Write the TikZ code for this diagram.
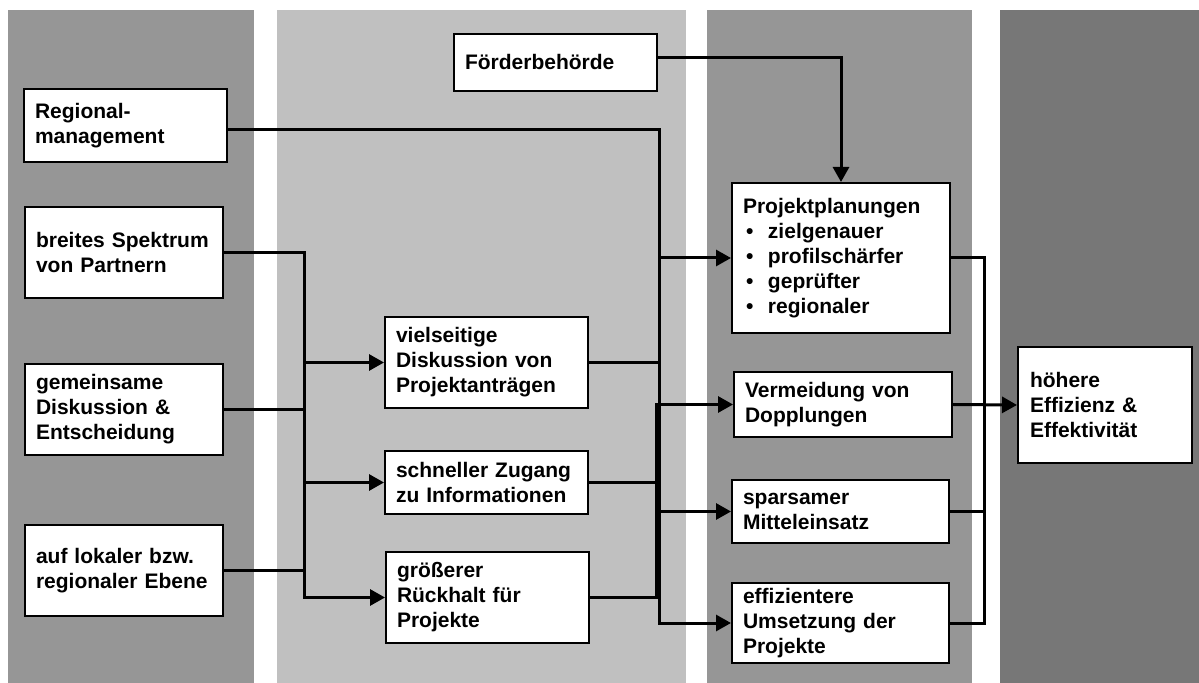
\documentclass[tikz,border=0pt]{standalone}
\usepackage{fontspec}
\setmainfont{Liberation Sans}
\usetikzlibrary{arrows.meta}
\definecolor{bandmid}{RGB}{150,150,150}
\definecolor{bandlight}{RGB}{192,192,192}
\definecolor{banddark}{RGB}{119,119,119}
\begin{document}
\begin{tikzpicture}[x=0.5pt,y=-0.5pt,
  band/.style={fill=#1, draw=none},
  box/.style={draw, fill=white, line width=1pt, inner xsep=5.5pt, inner ysep=0pt,
    align=left, font=\bfseries\fontsize{10.5pt}{12.5pt}\selectfont},
  wire/.style={line width=1.5pt},
  arr/.style={wire, -{Triangle[length=7.5pt,width=8pt]}}]

% page frame
\useasboundingbox (0,0) rectangle (1199,683);

% background columns
\fill[band=bandmid]   (8,10)    rectangle (254,683);
\fill[band=bandlight] (277,10)  rectangle (686,683);
\fill[band=bandmid]   (707,10)  rectangle (972,683);
\fill[band=banddark]  (1000,10) rectangle (1199,683);

% column 1: preconditions
\node[box, text width=90.5pt, minimum height=36.5pt] (reg)   at (125.5,125.5) {Regional-\\management};
\node[box, text width=88pt,   minimum height=45.5pt] (breit) at (124,252.5)   {breites Spektrum\\von Partnern};
\node[box, text width=88pt,   minimum height=45.5pt] (gem)   at (124,409.5)   {gemeinsame\\Diskussion \&\\Entscheidung};
\node[box, text width=88pt,   minimum height=45.5pt] (lok)   at (124,570.5)   {auf lokaler bzw.\\regionaler Ebene};

% column 2: process
\node[box, text width=90.5pt, minimum height=28.5pt] (foerd)   at (555.5,62.5)  {Förderbehörde};
\node[box, text width=90.5pt, minimum height=45.5pt] (viel)    at (486.5,362.5) {vielseitige\\Diskussion von\\Projektanträgen};
\node[box, text width=90.5pt, minimum height=31.5pt] (schnell) at (486.5,482.5) {schneller Zugang\\zu Informationen};
\node[box, text width=90.5pt, minimum height=45.5pt] (gross)   at (487.5,597.5) {größerer\\Rückhalt für\\Projekte};

% column 3: effects
\node[box, text width=98pt,   minimum height=75pt]   (plan) at (841,258) {Projektplanungen\\
  \makebox[12.5pt][l]{\hspace{1.5pt}\textbullet}zielgenauer\\
  \makebox[12.5pt][l]{\hspace{1.5pt}\textbullet}profilschärfer\\
  \makebox[12.5pt][l]{\hspace{1.5pt}\textbullet}geprüfter\\
  \makebox[12.5pt][l]{\hspace{1.5pt}\textbullet}regionaler};
\node[box, text width=98pt,   minimum height=32.5pt] (verm) at (843,404.5)   {Vermeidung von\\Dopplungen};
\node[box, text width=97.5pt, minimum height=31.5pt] (spar) at (840.5,511.5) {sparsamer\\Mitteleinsatz};
\node[box, text width=97.5pt, minimum height=40pt]   (eff)  at (840.5,623)   {effizientere\\Umsetzung der\\Projekte};

% column 4: result
\node[box, text width=75pt, minimum height=58pt, inner xsep=6pt] (hoeh) at (1105,405) {höhere\\Effizienz \&\\Effektivität};

% bus lines
\coordinate (lx) at (304,0);
\coordinate (mx) at (659,0);
\coordinate (nx) at (656,0);
\coordinate (rx) at (984,0);

% left bus
\draw[arr]  (breit.east) -| (lx |- gross.west) -- (gross.west);
\draw[wire] (gem.east) -- (gem.east -| lx);
\draw[wire] (lok.east) -- (lok.east -| lx);
\draw[arr]  (lx |- viel.west) -- (viel.west);
\draw[arr]  (lx |- schnell.west) -- (schnell.west);

% middle buses
\draw[arr]  ([yshift=-2.25pt]reg.east) -| (mx |- eff.west) -- (eff.west);
\draw[arr]  (mx |- plan.west) -- (plan.west);
\draw[wire] (viel.east) -- (viel.east -| mx);
\draw[arr]  (mx |- spar.west) -- (spar.west);
\draw[wire] (schnell.east) -- (schnell.east -| nx);
\draw[arr]  (gross.east) -| (nx |- verm.west) -- (verm.west);

% funding authority
\draw[arr]  ([yshift=2.25pt]foerd.east) -| (plan.north);

% right bus
\draw[wire] (plan.east) -| (rx |- eff.east) -- (eff.east);
\draw[wire] (spar.east) -- (spar.east -| rx);
\draw[arr]  (verm.east) -- (hoeh.west);
\end{tikzpicture}
\end{document}
